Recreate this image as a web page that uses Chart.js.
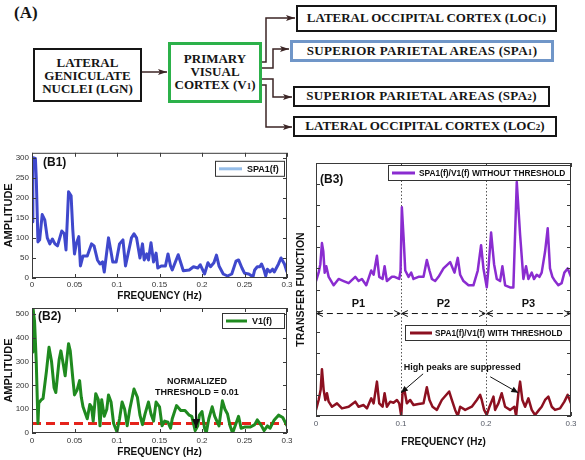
<!DOCTYPE html>
<html>
<head>
<meta charset="utf-8">
<script src="https://cdn.jsdelivr.net/npm/chart.js@4.4.0/dist/chart.umd.min.js"></script>
<style>
  html, body { margin: 0; padding: 0; background: #fff; }
  #fig { position: relative; width: 585px; height: 460px; overflow: hidden; background: #fff; }
  .box {
    position: absolute; box-sizing: border-box; background: #fff;
    display: flex; align-items: center; justify-content: center; text-align: center;
    font: bold 13px "Liberation Serif", "Times New Roman", serif; color: #151515; line-height: 13px;
  }
  .wide { letter-spacing: 0.3px; }
  .sub { font-size: 9px; }
  canvas { position: absolute; }
</style>
</head>
<body>
<div id="fig">
  <div style="position:absolute;left:14px;top:3px;font:bold 17px 'Liberation Serif',serif;color:#151515;">(A)</div>

  <svg width="585" height="145" style="position:absolute;left:0;top:0">
    <defs>
      <marker id="ah" markerWidth="9" markerHeight="6" refX="9" refY="3" orient="auto" markerUnits="userSpaceOnUse">
        <path d="M0,0 L9,3 L0,6 L2,3 z" fill="#3b2525"/>
      </marker>
    </defs>
    <g fill="none" stroke="#3b2525" stroke-width="1.5" marker-end="url(#ah)">
      <path d="M142,72 H167"/>
      <path d="M262,62 H266 V18 H295"/>
      <path d="M262,68 H273 V49 H289"/>
      <path d="M262,79 H273 V97 H292"/>
      <path d="M262,85 H266 V127 H292"/>
    </g>
  </svg>

  <div class="box" style="left:33px;top:48px;width:109px;height:54px;border:2px solid #151515;"><div>LATERAL<br>GENICULATE<br>NUCLEI (LGN)</div></div>
  <div class="box" style="left:168px;top:42px;width:94px;height:61px;border:3px solid #2cb14a;"><div>PRIMARY<br>VISUAL<br>CORTEX (V<span class="sub">1</span>)</div></div>
  <div class="box" style="left:296px;top:5px;width:261px;height:27px;border:2px solid #151515;"><div>LATERAL OCCIPITAL CORTEX (LOC<span class="sub">1</span>)</div></div>
  <div class="box wide" style="left:290px;top:40px;width:264px;height:22px;border:3px solid #7096c8;"><div>SUPERIOR PARIETAL AREAS (SPA<span class="sub">1</span>)</div></div>
  <div class="box wide" style="left:293px;top:86px;width:257px;height:21px;border:2px solid #151515;"><div>SUPERIOR PARIETAL AREAS (SPA<span class="sub">2</span>)</div></div>
  <div class="box" style="left:293px;top:116px;width:264px;height:21px;border:2px solid #151515;"><div>LATERAL OCCIPITAL CORTEX (LOC<span class="sub">2</span>)</div></div>

  <canvas id="b1" width="300" height="160" style="left:0;top:145px;width:300px;height:160px"></canvas>
  <canvas id="b2" width="300" height="160" style="left:0;top:300px;width:300px;height:160px"></canvas>
  <canvas id="b3" width="290" height="305" style="left:295px;top:155px;width:290px;height:305px"></canvas>
</div>

<script>
/* ---------- data ---------- */
const freqTicksB12  = [0, 0.05, 0.1, 0.15, 0.2, 0.25, 0.3];
const freqLabelsB12 = ['0', '0.05', '0.1', '0.15', '0.2', '0.25', '0.3'];
const ampTicksB1    = [0, 50, 100, 150, 200, 250, 300];
const ampTicksB2    = [0, 100, 200, 300, 400, 500];
const freqTicksB3   = [0, 0.1, 0.2, 0.3];
const freqLabelsB3  = ['0', '0.1', '0.2', '0.3'];
const tfTicksB3     = [0, 1, 2, 3, 4, 5, 6, 7, 8, 9, 10, 11, 12];

// (B1) SPA1(f)
const b1Freq = [0, 0.001, 0.004, 0.005, 0.007, 0.009, 0.012, 0.015, 0.018, 0.021, 0.024, 0.027, 0.03, 0.035, 0.038, 0.04,
  0.043, 0.046, 0.048, 0.05, 0.052, 0.055, 0.057, 0.06, 0.065, 0.07, 0.073, 0.077, 0.08, 0.083, 0.085, 0.09, 0.093, 0.095,
  0.099, 0.103, 0.107, 0.11, 0.113, 0.117, 0.12, 0.123, 0.127, 0.13, 0.132, 0.135, 0.137, 0.14, 0.143, 0.146, 0.148, 0.152,
  0.157, 0.16, 0.163, 0.165, 0.172, 0.178, 0.185, 0.19, 0.195, 0.198, 0.203, 0.207, 0.21, 0.214, 0.217, 0.22, 0.225, 0.23,
  0.235, 0.24, 0.243, 0.247, 0.25, 0.255, 0.26, 0.262, 0.265, 0.268, 0.27, 0.273, 0.275, 0.277, 0.28, 0.283, 0.285, 0.29,
  0.293, 0.297, 0.3];
const b1Amp = [140, 300, 298, 250, 90, 95, 158, 145, 100, 85, 97, 85, 80, 117, 110, 70,
  215, 205, 120, 60, 85, 103, 30, 55, 55, 85, 80, 45, 35, 40, 15, 100, 65, 40,
  40, 85, 95, 30, 60, 100, 110, 100, 50, 85, 45, 60, 45, 88, 40, 62, 25, 30,
  30, 60, 30, 20, 58, 18, 20, 28, 25, 33, 10, 38, 28, 38, 57, 30, 10, 5,
  10, 42, 45, 25, 12, 10, 3, 20, 28, 28, 35, 20, 5, 22, 15, 22, 15, 35,
  50, 35, 15];

// (B2) V1(f)
const b2Freq = [0, 0.001, 0.003, 0.005, 0.007, 0.008, 0.011, 0.013, 0.017, 0.02, 0.023, 0.026, 0.028, 0.032, 0.034, 0.037,
  0.039, 0.041, 0.043, 0.045, 0.048, 0.05, 0.053, 0.056, 0.058, 0.06, 0.063, 0.065, 0.068, 0.07, 0.072, 0.075, 0.078, 0.08,
  0.082, 0.085, 0.088, 0.09, 0.093, 0.096, 0.1, 0.103, 0.106, 0.109, 0.112, 0.115, 0.12, 0.124, 0.127, 0.13, 0.133, 0.137,
  0.14, 0.143, 0.146, 0.15, 0.153, 0.156, 0.16, 0.163, 0.165, 0.17, 0.175, 0.18, 0.185, 0.188, 0.192, 0.195, 0.197, 0.2,
  0.203, 0.205, 0.208, 0.212, 0.215, 0.22, 0.224, 0.227, 0.23, 0.233, 0.236, 0.24, 0.243, 0.246, 0.25, 0.257, 0.262, 0.265,
  0.27, 0.273, 0.277, 0.28, 0.285, 0.29, 0.295, 0.3];
const b2Amp = [340, 530, 470, 300, 40, 125, 140, 145, 260, 360, 300, 190, 170, 310, 345, 285,
  240, 310, 375, 345, 230, 160, 180, 220, 150, 110, 80, 60, 120, 110, 50, 165, 140, 30,
  140, 70, 100, 160, 130, 40, 5, 60, 130, 100, 30, 100, 185, 150, 75, 35, 80, 130,
  80, 50, 130, 110, 30, 50, 45, 20, 60, 115, 95, 95, 75, 70, 10, 30, 75, 90,
  20, 0, 60, 110, 70, 30, 135, 100, 80, 30, 0, 40, 70, 20, 25, 25, 35, 55,
  30, 10, 30, 20, 55, 75, 65, 30];
const thresholdAmp = 40;

// (B3) SPA1(f)/V1(f) without threshold
const b3Freq = [0, 0.0031, 0.0051, 0.007, 0.0086, 0.0102, 0.0121, 0.0149, 0.0208, 0.0266, 0.0325, 0.0384, 0.0462, 0.0501,
  0.054, 0.0591, 0.065, 0.0678, 0.0717, 0.0744, 0.0783, 0.0807, 0.0834, 0.0862, 0.0893, 0.0924, 0.0979, 0.0995, 0.101,
  0.103, 0.105, 0.1089, 0.112, 0.1147, 0.1206, 0.1265, 0.1304, 0.1335, 0.1363, 0.1402, 0.1441, 0.15, 0.1578, 0.1629,
  0.1668, 0.1696, 0.1735, 0.1794, 0.1852, 0.1903, 0.1942, 0.197, 0.2009, 0.2029, 0.206, 0.2095, 0.2127, 0.2166, 0.2193,
  0.2225, 0.2283, 0.2322, 0.2362, 0.2401, 0.244, 0.2471, 0.2499, 0.2538, 0.2565, 0.2597, 0.2628, 0.2655, 0.2695, 0.2726,
  0.2753, 0.2781, 0.2812, 0.2851, 0.289, 0.2922, 0.2961, 0.3];
const b3NoThr = [6.4, 6.8, 7.2, 8.2, 7.8, 6.8, 7.1, 6.6, 6.2, 6.5, 6.4, 6.3, 6.6, 6.4,
  6.5, 6.2, 6.9, 6.7, 7.6, 6.6, 6.5, 7.1, 6.4, 6.5, 6.6, 6.6, 6.5, 6.9, 9.9,
  8.5, 6.9, 6.6, 6.8, 6.5, 6.6, 6.6, 7.4, 6.9, 6.5, 6.4, 6.6, 7.0, 7.3, 6.8,
  7.5, 6.7, 6.4, 6.2, 6.2, 6.9, 8.1, 7.0, 6.1, 7.0, 8.7, 7.2, 6.5, 6.4, 7.1,
  6.2, 6.1, 6.1, 11.1, 8.6, 6.5, 7.1, 6.5, 6.8, 6.5, 6.7, 6.6, 6.8, 7.8, 8.9,
  7.0, 6.6, 6.4, 6.2, 6.3, 6.8, 7.0, 6.6];

// (B3) SPA1(f)/V1(f) with threshold
const b3ThrFreq = [0, 0.0031, 0.0055, 0.007, 0.009, 0.011, 0.0129, 0.0149, 0.0188, 0.0247, 0.0305, 0.0384, 0.0462, 0.0501,
  0.056, 0.0599, 0.065, 0.0678, 0.0717, 0.0744, 0.0783, 0.0807, 0.0834, 0.0873, 0.0912, 0.0952, 0.0979, 0.1003, 0.1018,
  0.1042, 0.1069, 0.1108, 0.1147, 0.1206, 0.1265, 0.1304, 0.1335, 0.1371, 0.1422, 0.148, 0.1567, 0.1598, 0.1637, 0.1668,
  0.1696, 0.1755, 0.1833, 0.1892, 0.1931, 0.195, 0.1978, 0.2009, 0.2041, 0.2088, 0.2107, 0.2146, 0.2185, 0.2225, 0.2283,
  0.2334, 0.2354, 0.2381, 0.2401, 0.2428, 0.246, 0.2499, 0.2538, 0.2577, 0.2624, 0.2655, 0.2695, 0.2734, 0.2773, 0.2812,
  0.2871, 0.2922, 0.2961, 0.3];
const b3Thr = [0.29, 0.76, 1.24, 2.22, 1.24, 0.76, 1.08, 0.68, 0.44, 0.6, 0.36, 0.44, 0.68, 0.44,
  0.52, 0.36, 0.84, 0.6, 1.63, 0.6, 0.44, 1.08, 0.44, 0.68, 0.63, 0.76, 0.6, 0.0, 1.08,
  1.2, 0.6, 0.76, 0.52, 0.57, 0.6, 1.36, 0.76, 0.44, 0.29, 0.76, 1.16, 0.76, 0.29, 0.0,
  0.44, 0.29, 0.44, 0.76, 1.0, 0.76, 0.29, 0.05, 0.44, 0.92, 0.29, 0.6, 1.08, 0.44, 0.29,
  0.44, 0.0, 1.08, 1.63, 0.76, 0.44, 0.84, 0.29, 0.05, 0.29, 0.44, 0.76, 0.92, 0.44, 0.29,
  0.36, 0.68, 1.0, 0.6];

const bandEdges = [0, 0.1, 0.2, 0.3];
const bandNames = ['P1', 'P2', 'P3'];

/* ---------- look ---------- */
Chart.defaults.font.family = "'Liberation Sans', Arial, sans-serif";
Chart.defaults.color = '#222';
Chart.defaults.animation = false;

const SANS = "'Liberation Sans', Arial, sans-serif";
const pts = (xs, ys) => xs.map((x, i) => ({ x, y: ys[i] }));
const useTicks = list => s => { s.ticks = list.map(v => ({ value: v })); };

// box round the plot with inward ticks, matlab style
const frame = {
  id: 'frame',
  afterDatasetsDraw(chart) {
    const { ctx, chartArea: a, scales: { x, y } } = chart;
    ctx.save();
    ctx.strokeStyle = '#3a3a3a';
    ctx.lineWidth = 1;
    ctx.strokeRect(a.left + 0.5, a.top + 0.5, a.right - a.left - 1, a.bottom - a.top - 1);
    const t = 4;
    ctx.beginPath();
    x.ticks.forEach(k => {
      const px = Math.round(x.getPixelForValue(k.value)) + 0.5;
      ctx.moveTo(px, a.bottom); ctx.lineTo(px, a.bottom - t);
      ctx.moveTo(px, a.top);    ctx.lineTo(px, a.top + t);
    });
    y.ticks.forEach(k => {
      const py = Math.round(y.getPixelForValue(k.value)) + 0.5;
      ctx.moveTo(a.left, py);  ctx.lineTo(a.left + t, py);
      ctx.moveTo(a.right, py); ctx.lineTo(a.right - t, py);
    });
    ctx.stroke();
    ctx.restore();
  }
};

function arrowHead(ctx, x1, y1, x2, y2, ar) {
  const ang = Math.atan2(y2 - y1, x2 - x1), L = ar.head || 7, W = ar.headW || 3;
  const bx = x2 - L * Math.cos(ang), by = y2 - L * Math.sin(ang);
  const px = -Math.sin(ang) * W, py = Math.cos(ang) * W;
  ctx.beginPath();
  if (ar.open) {
    ctx.moveTo(bx + px, by + py); ctx.lineTo(x2, y2); ctx.lineTo(bx - px, by - py); ctx.stroke();
  } else {
    ctx.moveTo(x2, y2); ctx.lineTo(bx + px, by + py); ctx.lineTo(bx - px, by - py); ctx.closePath(); ctx.fill();
  }
}

// dividers, arrows, text notes and the panel tag
const notes = {
  id: 'notes',
  beforeDatasetsDraw(chart, args, o) {
    if (!o.dividers) return;
    const { ctx, chartArea: a, scales: { x } } = chart;
    ctx.save();
    ctx.strokeStyle = '#555';
    ctx.lineWidth = 1;
    ctx.setLineDash([1.5, 2]);
    o.dividers.forEach(v => {
      const px = Math.round(x.getPixelForValue(v)) + 0.5;
      ctx.beginPath(); ctx.moveTo(px, a.top); ctx.lineTo(px, a.bottom); ctx.stroke();
    });
    ctx.restore();
  },
  afterDraw(chart, args, o) {
    const { ctx, chartArea: a, scales: { x, y } } = chart;
    ctx.save();
    (o.arrows || []).forEach(ar => {
      const x1 = x.getPixelForValue(ar.x1), y1 = y.getPixelForValue(ar.y1);
      const x2 = x.getPixelForValue(ar.x2), y2 = y.getPixelForValue(ar.y2);
      ctx.strokeStyle = ctx.fillStyle = ar.color || '#111';
      ctx.lineWidth = ar.width || 1;
      ctx.setLineDash(ar.dash || []);
      ctx.beginPath(); ctx.moveTo(x1, y1); ctx.lineTo(x2, y2); ctx.stroke();
      ctx.setLineDash([]);
      arrowHead(ctx, x1, y1, x2, y2, ar);
      if (ar.both) arrowHead(ctx, x2, y2, x1, y1, ar);
    });
    ctx.fillStyle = '#111';
    ctx.textAlign = 'center';
    ctx.textBaseline = 'middle';
    (o.texts || []).forEach(t => {
      ctx.font = t.font;
      ctx.fillText(t.text, x.getPixelForValue(t.x), y.getPixelForValue(t.y));
    });
    if (o.panel) {
      ctx.font = `bold 12px ${SANS}`;
      ctx.textAlign = 'left';
      ctx.fillText(o.panel.text, a.left + o.panel.dx, a.top + o.panel.dy);
    }
    ctx.restore();
  }
};

// boxed legend inside the plot
const boxLegend = {
  id: 'boxLegend',
  afterDraw(chart, args, o) {
    const { ctx, chartArea: a } = chart;
    (o.items || []).forEach(it => {
      const ds = chart.data.datasets[it.ds];
      const x0 = a.right - it.right - it.width, y0 = a.top + it.top, my = y0 + it.height / 2;
      ctx.save();
      ctx.fillStyle = '#fff';
      ctx.fillRect(x0, y0, it.width, it.height);
      ctx.strokeStyle = '#333';
      ctx.lineWidth = 1;
      ctx.strokeRect(x0 + 0.5, y0 + 0.5, it.width - 1, it.height - 1);
      ctx.strokeStyle = it.swatch || ds.borderColor;
      ctx.lineWidth = 3;
      ctx.beginPath(); ctx.moveTo(x0 + it.pad, my); ctx.lineTo(x0 + it.pad + it.line, my); ctx.stroke();
      ctx.fillStyle = '#111';
      ctx.font = it.font;
      ctx.textBaseline = 'middle';
      ctx.fillText(ds.label, x0 + it.pad + it.line + it.gap, my + 0.5);
      ctx.restore();
    });
  }
};

function lineSet(label, data, color, width, dash) {
  return { label, data, borderColor: color, backgroundColor: color, borderWidth: width,
           borderDash: dash || [], borderJoinStyle: 'round', pointRadius: 0, tension: 0, fill: false };
}

function freqAxis(ticks, labels, height, tickPad, titlePad, tickColor) {
  return {
    type: 'linear', min: 0, max: 0.3,
    afterBuildTicks: useTicks(ticks),
    afterFit: s => { s.height = height; },
    grid: { display: false, drawTicks: false },
    border: { display: false },
    ticks: { font: { size: 8 }, color: tickColor, padding: tickPad, maxRotation: 0, autoSkip: false,
             callback: (v, i) => labels[i] },
    title: { display: true, text: 'FREQUENCY (Hz)', color: '#111',
             font: { size: 10, weight: 'bold' }, padding: { top: 0, bottom: titlePad } }
  };
}

function valueAxis(ticks, max, width, title, showLabels, titleSize, titlePad) {
  return {
    min: 0, max,
    afterBuildTicks: useTicks(ticks),
    afterFit: s => { s.width = width; },
    grid: { display: false, drawTicks: false },
    border: { display: false },
    ticks: { display: showLabels, font: { size: 8 }, color: '#333', padding: 3, callback: v => String(v) },
    title: { display: true, text: title, color: '#111',
             font: { size: titleSize, weight: 'bold' }, padding: { top: titlePad, bottom: 0 } }
  };
}

const common = { responsive: false, maintainAspectRatio: false, events: [] };

/* ---------- (B1) ---------- */
new Chart(document.getElementById('b1'), {
  type: 'line',
  data: { datasets: [lineSet('SPA1(f)', pts(b1Freq, b1Amp), '#3f48cc', 3)] },
  options: {
    ...common,
    layout: { padding: { top: 5, right: 13, left: 0, bottom: 0 } },
    scales: {
      x: freqAxis(freqTicksB12, freqLabelsB12, 27, 2, 3, '#333'),
      y: valueAxis(ampTicksB1, 312, 32, 'AMPLITUDE', true, 11, 2)
    },
    plugins: {
      legend: { display: false }, tooltip: { enabled: false },
      notes: { panel: { text: '(B1)', dx: 11, dy: 10 } },
      boxLegend: { items: [{ ds: 0, right: 2, top: 8, width: 70, height: 16, pad: 4, line: 23, gap: 5,
                             swatch: '#95bde8', font: `bold 9px ${SANS}` }] }
    }
  },
  plugins: [frame, notes, boxLegend]
});

/* ---------- (B2) ---------- */
new Chart(document.getElementById('b2'), {
  type: 'line',
  data: { datasets: [
    lineSet('V1(f)', pts(b2Freq, b2Amp), '#1f8a1f', 3),
    lineSet('threshold', pts([0, 0.3], [thresholdAmp, thresholdAmp]), '#e5231b', 3, [9, 5])
  ] },
  options: {
    ...common,
    layout: { padding: { top: 8, right: 13, left: 0, bottom: 0 } },
    scales: {
      x: freqAxis(freqTicksB12, freqLabelsB12, 27, 3, 2, '#333'),
      y: valueAxis(ampTicksB2, 525, 32, 'AMPLITUDE', true, 11, 2)
    },
    plugins: {
      legend: { display: false }, tooltip: { enabled: false },
      notes: {
        panel: { text: '(B2)', dx: 6, dy: 9 },
        texts: [
          { text: 'NORMALIZED', x: 0.194, y: 218, font: `bold 9px ${SANS}` },
          { text: 'THRESHOLD = 0.01', x: 0.194, y: 172, font: `bold 9px ${SANS}` }
        ],
        arrows: [{ x1: 0.193, y1: 151, x2: 0.193, y2: 21, width: 2, head: 9, headW: 4 }]
      },
      boxLegend: { items: [{ ds: 0, right: 2, top: 5, width: 63, height: 16, pad: 4, line: 21, gap: 5,
                             font: `bold 9px ${SANS}` }] }
    }
  },
  plugins: [frame, notes, boxLegend]
});

/* ---------- (B3) ---------- */
const bandArrows = bandNames.map((n, i) => ({
  x1: bandEdges[i] + 0.001, y1: 4.86, x2: bandEdges[i + 1] - 0.001, y2: 4.86,
  dash: [6, 4], both: true, open: true, head: 6, headW: 3
}));
const bandTexts = bandNames.map((n, i) => ({
  text: n, x: (bandEdges[i] + bandEdges[i + 1]) / 2, y: 5.3, font: `bold 11px ${SANS}`
}));

new Chart(document.getElementById('b3'), {
  type: 'line',
  data: { datasets: [
    lineSet('SPA1(f)/V1(f) WITHOUT THRESHOLD', pts(b3Freq, b3NoThr), '#8a2cd0', 2.5),
    lineSet('SPA1(f)/V1(f) WITH THRESHOLD', pts(b3ThrFreq, b3Thr), '#8c1020', 2.5)
  ] },
  options: {
    ...common,
    layout: { padding: { top: 8, right: 14, left: 0, bottom: 0 } },
    scales: {
      x: freqAxis(freqTicksB3, freqLabelsB3, 44, 3, 12, '#555a66'),
      y: valueAxis(tfTicksB3, 12, 21, 'TRANSFER FUNCTION', false, 10.5, 0)
    },
    plugins: {
      legend: { display: false }, tooltip: { enabled: false },
      notes: {
        dividers: [0.1, 0.2],
        panel: { text: '(B3)', dx: 4, dy: 17 },
        arrows: [
          ...bandArrows,
          { x1: 0.126, y1: 2.0, x2: 0.1, y2: 1.1, width: 1, head: 7, headW: 3 },
          { x1: 0.205, y1: 1.86, x2: 0.238, y2: 1.1, width: 1, head: 7, headW: 3 }
        ],
        texts: [
          ...bandTexts,
          { text: 'High peaks are suppressed', x: 0.172, y: 2.3, font: `bold 9px ${SANS}` }
        ]
      },
      boxLegend: { items: [
        { ds: 0, right: 0, top: 2, width: 183, height: 16, pad: 4, line: 23, gap: 4, font: `bold 8.4px ${SANS}` },
        { ds: 1, right: 0, top: 162, width: 166, height: 16, pad: 5, line: 22, gap: 3, font: `bold 8.3px ${SANS}` }
      ] }
    }
  },
  plugins: [frame, notes, boxLegend]
});
</script>
</body>
</html>
